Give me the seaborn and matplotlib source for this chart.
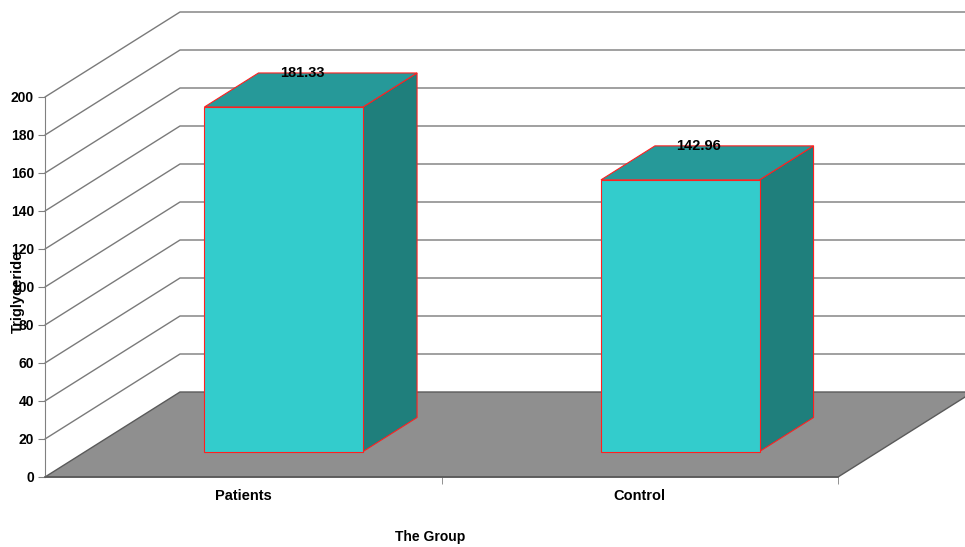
import matplotlib as mpl
from matplotlib import pyplot as plt
from matplotlib.patches import Polygon
from matplotlib.lines import Line2D
from matplotlib.transforms import Affine2D, IdentityTransform
import seaborn as sns
import numpy as np
import pandas as pd

groups = ["Patients", "Control"]
values = [181.33, 142.96]
yticks = list(range(0, 201, 20))

sns.set_style("white")
plt.rcParams['font.family'] = ['Liberation Sans', 'DejaVu Sans']
plt.rcParams['text.color'] = 'black'
plt.rcParams['axes.labelcolor'] = 'black'
plt.rcParams['xtick.color'] = 'black'
plt.rcParams['ytick.color'] = 'black'

fig = plt.figure(figsize=(9.65, 5.47), dpi=100)
# front plane of the fake 3D box
ax = fig.add_axes([45/965, 70/547, 793/965, 380/547])

df = pd.DataFrame({"Group": groups, "Value": values})
sns.barplot(data=df, x="Group", y="Value", color="#33cccc", width=0.4,
            saturation=1, ax=ax)
bars = list(ax.patches)
ax.set_xlim(-0.5, 1.5)
ax.set_ylim(0, 200)

DX, DY = 135, 85      # depth of the box in pixels
d0, d1 = 0.3, 0.7     # bar depth range
ident = IdentityTransform()


def pt(x, y, d):
    px, py = ax.transData.transform((x, y))
    return (px + d*DX, py + d*DY)


# back wall gridlines
for v in yticks[1:]:
    xs, ys = zip(pt(-0.5, v, 0), pt(-0.5, v, 1), pt(1.5, v, 1))
    ax.add_line(Line2D(xs, ys, color="#7a7a7a", lw=1, transform=ident,
                       clip_on=False, zorder=0.5))

# floor
floor = Polygon([pt(-0.5, 0, 0), pt(1.5, 0, 0), pt(1.5, 0, 1), pt(-0.5, 0, 1)],
                closed=True, facecolor="#8f8f8f", edgecolor="#5a5a5a", lw=1,
                transform=ident, clip_on=False, zorder=1)
ax.add_patch(floor)

# bars: front face from seaborn, side and top added
for p, v in zip(bars, values):
    p.set_transform(ax.transData + Affine2D().translate(d0*DX, d0*DY))
    p.set_edgecolor("#ff2020")
    p.set_linewidth(0.8)
    p.set_zorder(4)
    p.set_clip_on(False)
    x0 = p.get_x()
    x1 = x0 + p.get_width()
    h = p.get_height()
    side = Polygon([pt(x1, 0, d0), pt(x1, h, d0), pt(x1, h, d1), pt(x1, 0, d1)],
                   closed=True, facecolor="#1f7f7c", edgecolor="#ff2020", lw=0.8,
                   transform=ident, clip_on=False, zorder=3)
    top = Polygon([pt(x0, h, d0), pt(x1, h, d0), pt(x1, h, d1), pt(x0, h, d1)],
                  closed=True, facecolor="#269999", edgecolor="#ff2020", lw=0.8,
                  transform=ident, clip_on=False, zorder=3)
    ax.add_patch(side)
    ax.add_patch(top)
    ax.annotate(f"{v:.2f}", xy=(x0 + p.get_width()/2, h), xytext=(59, 59),
                textcoords="offset pixels", ha="center", va="center",
                fontweight="bold", fontsize=10.5, zorder=6, annotation_clip=False)

for s in ["top", "right"]:
    ax.spines[s].set_visible(False)
ax.spines["left"].set_color("#808080")
ax.spines["bottom"].set_color("#5a5a5a")
ax.spines["bottom"].set_linewidth(1.2)
ax.spines["left"].set_zorder(2)
ax.spines["bottom"].set_zorder(2)

ax.set_yticks(yticks)
ax.set_yticklabels([str(t) for t in yticks], fontweight="bold", fontsize=10)
ax.tick_params(axis="y", left=True, length=5, color="#808080", pad=3)
ax.set_xticks([0, 1])
ax.set_xticklabels(groups, fontweight="bold", fontsize=10.5)
ax.tick_params(axis="x", which="major", bottom=False, length=0, pad=9)
ax.set_xticks([0.5, 1.5], minor=True)
ax.tick_params(axis="x", which="minor", bottom=True, length=5, color="#808080")

ax.set_ylabel("Triglyceride", fontweight="bold", fontsize=10.5)
ax.yaxis.set_label_coords(-0.026, 0.487)
ax.set_xlabel("The Group", fontweight="bold", fontsize=10)
ax.xaxis.set_label_coords(0.486, -0.14)
ax.patch.set_alpha(0)

plt.savefig("out.png", dpi=100)
